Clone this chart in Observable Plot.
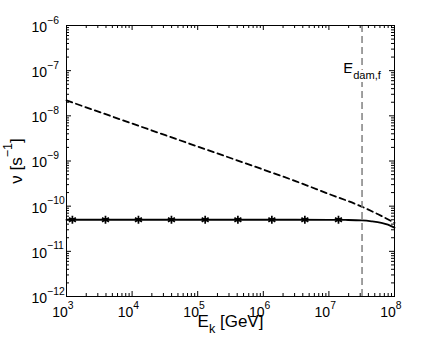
<!DOCTYPE html>
<html><head><meta charset="utf-8">
<script src="https://cdn.jsdelivr.net/npm/d3@7"></script>
<script src="https://cdn.jsdelivr.net/npm/@observablehq/plot@0.6"></script>
<style>body{margin:0;background:#fff}</style>
</head><body><div id="chart"></div>
<script>
// dashed curve (upper)
const dashedE  = [1e3, 1e4, 1e5, 1e6, 3.16e6, 1e7, 3.16e7, 5.62e7, 1e8];
const dashedNu = [2.19e-8, 6.76e-9, 2.09e-9, 6.46e-10, 3.55e-10, 1.86e-10, 9.8e-11, 6.6e-11, 4.27e-11];
// solid curve (lower)
const solidE  = [1e3, 1e6, 1e7, 1.78e7, 3.16e7, 4.47e7, 6.31e7, 7.94e7, 1e8];
const solidNu = [5.0e-11, 5.0e-11, 4.99e-11, 4.95e-11, 4.84e-11, 4.62e-11, 4.27e-11, 3.89e-11, 3.34e-11];
// star markers on solid curve
const starE  = [1.23e3, 3.93e3, 1.25e4, 3.98e4, 1.3e5, 4.1e5, 1.35e6, 4.3e6, 1.4e7];
const starNu = [5e-11, 5e-11, 5e-11, 5e-11, 5e-11, 5e-11, 5e-11, 5e-11, 5e-11];
// vertical marker
const Edam = 3.2e7;
const EdamLabel = "E_{dam,f}";
// ticks
const xTickExps = [3, 4, 5, 6, 7, 8];
const yTickExps = [-12, -11, -10, -9, -8, -7, -6];
const minorMults = [2, 3, 4, 5, 6, 7, 8, 9];
const xLabel = "E_{k} [GeV]";
const yLabel = "ν [s^{−1}]";

const dashed = dashedE.map((e, i) => ({e, nu: dashedNu[i]}));
const solid = solidE.map((e, i) => ({e, nu: solidNu[i]}));
const stars = starE.map((e, i) => ({e, nu: starNu[i]}));
const xMajor = xTickExps.map(k => 10 ** k);
const yMajor = yTickExps.map(k => 10 ** k);
const xMinor = xTickExps.slice(0, -1).flatMap(k => minorMults.map(m => m * 10 ** k));
const yMinor = yTickExps.slice(0, -1).flatMap(k => minorMults.map(m => m * 10 ** k));
const sup = k => "10^{" + (k < 0 ? "−" + (-k) : k) + "}";

const W = 436, H = 342, mL = 66, mR = 42, mT = 25, mB = 46;
const iW = W - mL - mR, iH = H - mT - mB;
const majLen = 5, minLen = 3;

const chart = Plot.plot({
  width: W, height: H,
  marginLeft: mL, marginRight: mR, marginTop: mT, marginBottom: mB,
  style: {fontFamily: "'Liberation Sans', Arial, Helvetica, sans-serif", background: "#fff", color: "black"},
  x: {type: "log", domain: [1e3, 1e8], axis: null},
  y: {type: "log", domain: [1e-12, 1e-6], axis: null},
  marks: [
    Plot.line(solid, {x: "e", y: "nu", stroke: "black", strokeWidth: 1.8, curve: "monotone-x"}),
    Plot.line(dashed, {x: "e", y: "nu", stroke: "black", strokeWidth: 1.8, strokeDasharray: "6,4", curve: "monotone-x"}),
    Plot.dot(stars, {x: "e", y: "nu", symbol: "asterisk", r: 3.8, stroke: "black", strokeWidth: 1.7}),
    Plot.ruleX([Edam], {stroke: "#808080", strokeWidth: 1.5, strokeDasharray: "7,4"}),
    Plot.text([EdamLabel], {x: Edam, frameAnchor: "top", dy: 43, text: d => d, textAnchor: "middle", lineAnchor: "middle", fontSize: 15, fill: "black", stroke: "white", strokeWidth: 6}),
    // inward ticks
    Plot.tickX(xMajor, {x: d => d, insetTop: iH - majLen, stroke: "black"}),
    Plot.tickX(xMajor, {x: d => d, insetBottom: iH - majLen, stroke: "black"}),
    Plot.tickX(xMinor, {x: d => d, insetTop: iH - minLen, stroke: "black"}),
    Plot.tickX(xMinor, {x: d => d, insetBottom: iH - minLen, stroke: "black"}),
    Plot.tickY(yMajor, {y: d => d, insetRight: iW - majLen, stroke: "black"}),
    Plot.tickY(yMajor, {y: d => d, insetLeft: iW - majLen, stroke: "black"}),
    Plot.tickY(yMinor, {y: d => d, insetRight: iW - minLen, stroke: "black"}),
    Plot.tickY(yMinor, {y: d => d, insetLeft: iW - minLen, stroke: "black"}),
    Plot.frame({stroke: "black", strokeWidth: 1}),
    // tick labels
    Plot.text(xTickExps, {x: k => 10 ** k, frameAnchor: "bottom", text: k => sup(k), textAnchor: "end", dx: 7, dy: 16, lineAnchor: "middle", fontSize: 14, fill: "black"}),
    Plot.text(yTickExps, {y: k => 10 ** k, frameAnchor: "left", text: k => sup(k), textAnchor: "start", dx: -35, dy: 2, lineAnchor: "middle", fontSize: 14, fill: "black"}),
    // axis labels
    Plot.text([xLabel], {frameAnchor: "bottom", text: d => d, dy: 25, textAnchor: "middle", lineAnchor: "middle", fontSize: 17, fill: "black"}),
    Plot.text([yLabel], {frameAnchor: "left", text: d => d, dx: -50, rotate: -90, textAnchor: "middle", lineAnchor: "middle", fontSize: 17, fill: "black"})
  ]
});
document.getElementById("chart").appendChild(chart);

// convert ^{..} and _{..} markup into superscript/subscript tspans
d3.select(chart).selectAll("text").each(function () {
  const s = this.textContent;
  if (!/[\^_]\{/.test(s)) return;
  const fs = parseFloat(getComputedStyle(this).fontSize) || 13;
  const t = d3.select(this);
  t.text(null);
  const re = /([_^])\{([^}]*)\}|([^_^]+)/g;
  let cur = 0, m;
  while ((m = re.exec(s))) {
    if (m[3] !== undefined) {
      t.append("tspan").attr("dy", -cur).text(m[3]);
      cur = 0;
    } else {
      const d = m[1] === "^" ? -0.6 * fs : 0.35 * fs;
      t.append("tspan").attr("font-size", fs * 0.74).attr("dy", d - cur).text(m[2]);
      cur = d;
    }
  }
});
</script>
</body></html>
